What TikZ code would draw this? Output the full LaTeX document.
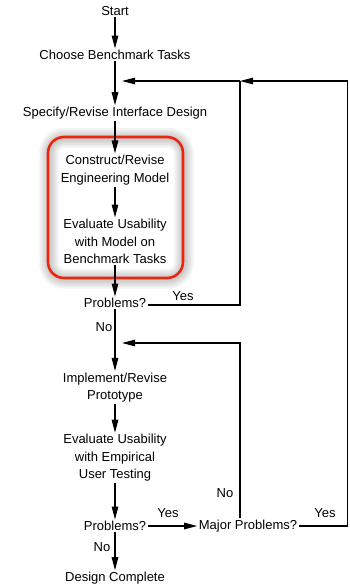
\documentclass[tikz,border=0pt]{standalone}
\usepackage{fontspec}
\setmainfont{Liberation Sans}
\usetikzlibrary{arrows.meta}
\definecolor{boxred}{RGB}{236,38,14}
\begin{document}
\begin{tikzpicture}[x=1pt,y=-1pt,
  font=\fontsize{13}{17.5}\selectfont,
  lbl/.style={inner sep=1.5pt,align=center},
  flow/.style={line width=1.2pt,-{Triangle[length=13pt,width=6.5pt]}},
  plain/.style={line width=1.2pt},
  tag/.style={inner sep=0pt},
  haze/.style={draw=black,draw opacity=0.035,rounded corners=16pt}]
\useasboundingbox (0,0) rectangle (349,588);

% highlighted model-based evaluation stage: soft glow, then red outline
\fill[white] (48,137) rectangle (183,278);
\foreach \w in {20,17,14,11,8,5}
  \draw[haze,line width=\w pt,xshift=0.8pt,yshift=-0.8pt] (48,137) rectangle (183,278);
\draw[boxred,line width=2.6pt,rounded corners=16pt] (48,137) rectangle (183,278);

% steps
\node[lbl] (start) at (115,11) {Start};
\node[lbl] (choose) at (115,55) {Choose Benchmark Tasks};
\node[lbl] (specify) at (115,113) {Specify/Revise Interface Design};
\node[lbl] (construct) at (115,170) {Construct/Revise\\Engineering Model};
\node[lbl] (evalm) at (115,241.5) {Evaluate Usability\\with Model on\\Benchmark Tasks};
\node[lbl] (prob1) at (115,303) {Problems?};
\node[lbl] (impl) at (115,387.5) {Implement/Revise\\Prototype};
\node[lbl] (evalu) at (115,458) {Evaluate Usability\\with Empirical\\User Testing};
\node[lbl] (prob2) at (115,526) {Problems?};
\node[lbl] (major) at (248,526) {Major Problems?};
\node[lbl] (done) at (115,578) {Design Complete};

% loop junctions
\coordinate (topin) at (122,81);
\coordinate (topj) at (240,81);
\coordinate (midin) at (122,343);
\coordinate (midj) at (240,343);
\coordinate (yesj) at (240,305);
\coordinate (rightc) at (347.6,526);
\coordinate (rightt) at (347.6,81);

% main sequence
\draw[flow] (start) -- (choose);
\draw[flow] (choose) -- (specify);
\draw[flow] (specify) -- (construct);
\draw[flow] (construct) -- (evalm);
\draw[flow] (evalm) -- (prob1);
\draw[flow] (prob1) -- (impl);
\draw[flow] (impl) -- (evalu);
\draw[flow] (evalu) -- (prob2);
\draw[flow] (prob2) -- (done);
\draw[flow] (prob2) -- (major);

% feedback loops
\draw[plain] (prob1.east |- yesj) -- (yesj) -- (topj);
\draw[flow] (topj) -- (topin);
\draw[flow] (major.east) -- (rightc) -- (rightt) -- (topj);
\draw[flow] (major.north -| midj) -- (midj) -- (midin);

% branch labels
\node[tag] (y1) at (183,296.5) {Yes};
\node[tag] (n1) at (104,327) {No};
\node[tag] (n2) at (225,493) {No};
\node[tag] (y2) at (168,513) {Yes};
\node[tag] (y3) at (325,513) {Yes};
\node[tag] (n3) at (102,547) {No};
\end{tikzpicture}
\end{document}
